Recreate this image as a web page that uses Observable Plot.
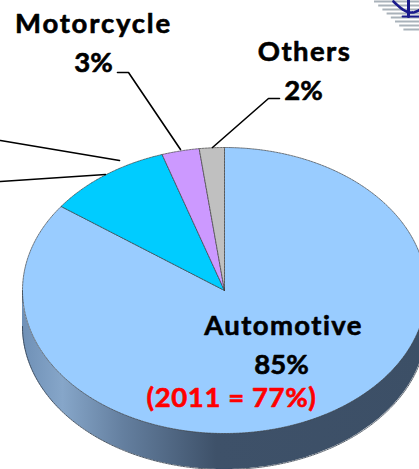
<!DOCTYPE html>
<html><head><meta charset="utf-8">
<script src="https://cdn.jsdelivr.net/npm/d3@7"></script>
<script src="https://cdn.jsdelivr.net/npm/@observablehq/plot@0.6"></script>
<style>html,body{margin:0;padding:0;background:#fff;overflow:hidden}svg{display:block}</style>
</head><body><div id="chart"></div>
<script>
const categories = ["Automotive", "Industrial", "Motorcycle", "Others"];
const shares = [85, 10, 3, 2];
const sliceColors = ["#99CCFF", "#00CCFF", "#CC99FF", "#C0C0C0"];
const labelTexts = ["Motorcycle", "3%", "Others", "2%", "Automotive", "85%", "(2011 = 77%)"];
const labelX = [93, 93, 304, 303, 283, 281, 231];
const labelY = [24, 63, 52, 91, 326, 365, 398];
const labelColors = ["#000", "#000", "#000", "#000", "#000", "#000", "#FF0000"];
const labelSpacing = [1.8, 0, 1.4, 0, 1.4, 0, 0.6];
const leaderLines = [
  [[117,72],[128,72],[180,149]],
  [[279,98],[268,98],[212,147]],
  [[0,140],[119,160]],
  [[0,181],[105,174]]
];
const W = 419, H = 469, cx = 224, cy = 290, rx = 202, ry = 143, depth = 36;

const ex = a => cx + rx * Math.sin(a);
const ey = a => cy - ry * Math.cos(a);
const total = d3.sum(shares);
let acc = 0;
const sliceMarks = shares.map((v, i) => {
  const a0 = acc / total * 2 * Math.PI; acc += v;
  const a1 = acc / total * 2 * Math.PI;
  const n = Math.max(2, Math.ceil((a1 - a0) / 0.01));
  const pts = [[cx, cy], ...d3.range(n + 1).map(k => {
    const a = a0 + (a1 - a0) * k / n; return [ex(a), ey(a)];
  }), [cx, cy]];
  return Plot.line(pts, {x: d => d[0], y: d => d[1], fill: sliceColors[i], stroke: "#3a3a3a",
    strokeWidth: 0.9, strokeDasharray: "2 1", strokeOpacity: 0.75});
});
const rimAngles = d3.range(0, 181).map(d => (90 + d) * Math.PI / 180);
const rim = rimAngles.map(a => ({x: ex(a), y: ey(a)})).reverse();
const gradient = () => {
  const svg = d3.create("svg:defs");
  const g = svg.append("linearGradient").attr("id", "wall")
    .attr("gradientUnits", "userSpaceOnUse").attr("x1", cx - rx).attr("x2", cx + rx).attr("y1", 0).attr("y2", 0);
  [[0, "#6f90b6"], [0.1, "#86a6c9"], [0.25, "#647f9f"], [0.48, "#3e5169"], [1, "#3c4f66"]]
    .forEach(([o, c]) => g.append("stop").attr("offset", o).attr("stop-color", c));
  return svg.node();
};
// logo fragment in the top right corner
const logoStripes = d3.range(0, 8).map(i => ({y: 1 + i * 4, x1: 374 + i * 4.2, x2: 419}));
const logoBowl = d3.range(0, 21).map(i => {
  const t = i / 20; return [393 + t * 26, 1 + 11 * Math.sin(t * Math.PI * 0.72)];
});

const plot = Plot.plot({
  width: W, height: H, margin: 0,
  style: {background: "#fff", overflow: "hidden"},
  x: {axis: null, domain: [0, W], range: [0, W]},
  y: {axis: null, domain: [0, H], range: [0, H]},
  marks: [
    gradient,
    Plot.ruleY(logoStripes, {y: "y", x1: "x1", x2: "x2", stroke: "#a9b2ba", strokeWidth: 2}),
    Plot.line(logoBowl, {x: d => d[0], y: d => d[1], stroke: "#1a1a8c", strokeWidth: 2.6}),
    Plot.line([[408, 0], [408, 16]], {x: d => d[0], y: d => d[1], stroke: "#1a1a8c", strokeWidth: 3}),
    Plot.line([[402, 16], [419, 16]], {x: d => d[0], y: d => d[1], stroke: "#1a1a8c", strokeWidth: 1.8}),
    Plot.areaY(rim, {x: "x", y1: "y", y2: d => d.y + depth, fill: "url(#wall)"}),
    Plot.line(rim, {x: "x", y: d => d.y + depth, stroke: "#2f3a48", strokeWidth: 0.8, strokeDasharray: "2 1"}),
    Plot.line(rim.filter(d => d.x < cx - rx + 1), {x: "x", y: "y", stroke: "#2f3a48", strokeWidth: 1}),
    ...sliceMarks,
    ...leaderLines.map(l => Plot.line(l, {x: d => d[0], y: d => d[1], stroke: "#000", strokeWidth: 1.6})),
    Plot.text(labelTexts, {
      x: (d, i) => labelX[i], y: (d, i) => labelY[i], text: d => d,
      fill: (d, i) => labelColors[i], stroke: (d, i) => labelColors[i], strokeWidth: 0.6,
      fontFamily: "Lato", fontWeight: 700, fontSize: 27.5, textAnchor: "middle"
    })
  ]
});
d3.select(plot).selectAll("text").each(function() {
  const i = labelTexts.indexOf(this.textContent);
  if (i >= 0) this.setAttribute("letter-spacing", labelSpacing[i]);
});
document.getElementById("chart").append(plot);
</script></body></html>
